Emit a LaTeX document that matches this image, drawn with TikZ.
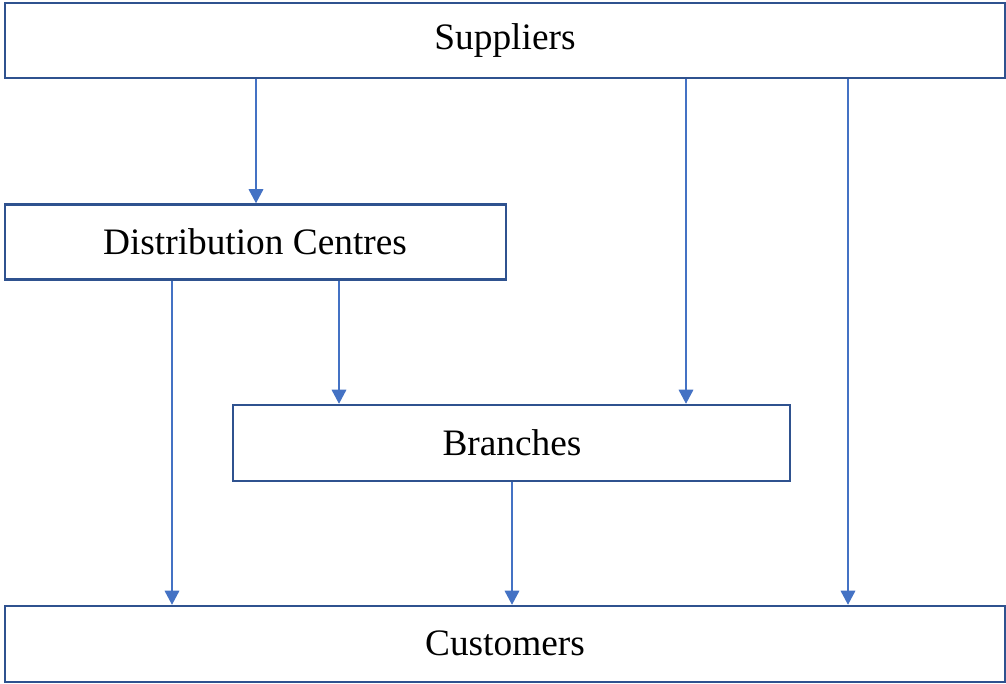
\documentclass[tikz,border=0pt]{standalone}
\usepackage{fontspec}
\setmainfont{Liberation Serif}
\usetikzlibrary{arrows.meta}
\definecolor{boxline}{HTML}{2F528F}
\definecolor{arrline}{HTML}{4472C4}
\tikzset{
  box/.style={draw=boxline, line width=1.9pt, fill=white, rectangle, inner sep=0pt},
  lbl/.style={font=\fontsize{28}{32}\selectfont, inner sep=0pt},
  arr/.style={draw=arrline, line width=0.9pt, -{Triangle[width=11pt,length=10.5pt]}}
}
\begin{document}
\begin{tikzpicture}[x=0.75pt,y=-0.75pt]
\useasboundingbox (0,0) rectangle (1006,683);
\node[box, minimum width=1000*0.75pt, minimum height=75*0.75pt] (sup) at (505,40.5) {};
\node[lbl] (supt) at (505,41) {Suppliers};
\node[box, minimum width=501*0.75pt, minimum height=75*0.75pt] (dc) at (255.5,242) {};
\node[lbl] (dct) at (255,242) {Distribution Centres};
\node[box, minimum width=557*0.75pt, minimum height=76*0.75pt] (br) at (511.5,443) {};
\node[lbl] (brt) at (512,443) {Branches};
\node[box, minimum width=1000*0.75pt, minimum height=76*0.75pt] (cu) at (505,644) {};
\node[lbl] (cut) at (505,643) {Customers};
\draw[arr] (sup.south -| 256,0) -- (dc.north -| 256,0);
\draw[arr] (sup.south -| 686,0) -- (br.north -| 686,0);
\draw[arr] (sup.south -| 848,0) -- (cu.north -| 848,0);
\draw[arr] (dc.south -| 172,0) -- (cu.north -| 172,0);
\draw[arr] (dc.south -| 339,0) -- (br.north -| 339,0);
\draw[arr] (br.south -| 512,0) -- (cu.north -| 512,0);
\end{tikzpicture}
\end{document}
